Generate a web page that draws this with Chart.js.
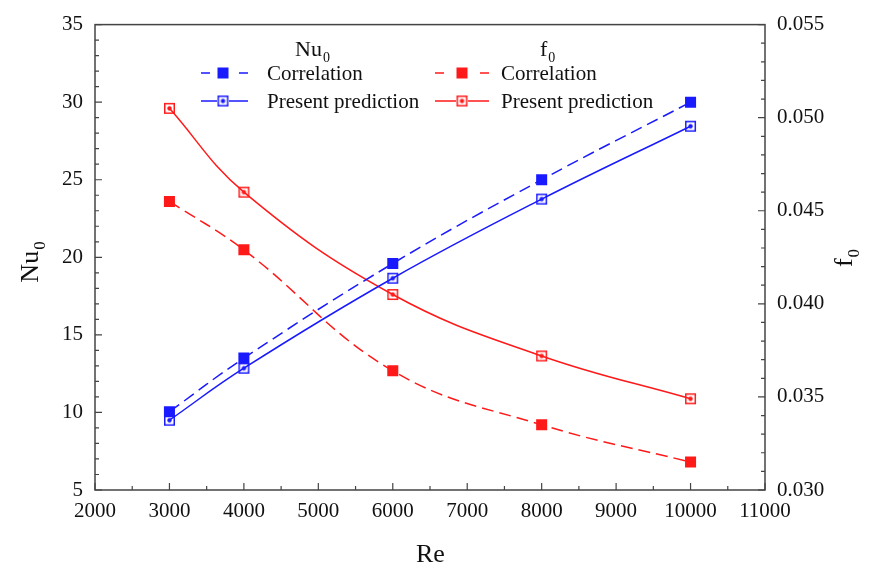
<!DOCTYPE html>
<html>
<head>
<meta charset="utf-8">
<script src="https://cdn.jsdelivr.net/npm/chart.js@4"></script>
<style>
  html, body { margin: 0; padding: 0; background: #fff; }
  #wrap { width: 874px; height: 569px; }
</style>
</head>
<body>
<div id="wrap"><canvas id="grafico"></canvas></div>
<script>
// datos
const reValues = [3000, 4000, 6000, 8000, 10000];
const nuCorrelation = [10.05, 13.5, 19.6, 25.0, 30.0];
const nuPrediction = [9.5, 12.85, 18.65, 23.75, 28.45];
const fCorrelation = [0.0455, 0.0429, 0.0364, 0.0335, 0.0315];
const fPrediction = [0.0505, 0.0460, 0.0405, 0.0372, 0.0349];

const FONT = "'Liberation Serif', 'Times New Roman', serif";
const BLUE = "#1a1aff";
const RED = "#ff1a1a";
const AXIS = "#444";

function pares(ys) {
  return reValues.map((x, i) => ({ x: x, y: ys[i] }));
}

// marcador cuadrado hueco con punto
function hollowMarker(color) {
  const c = document.createElement("canvas");
  c.width = 13; c.height = 13;
  const g = c.getContext("2d");
  g.strokeStyle = color;
  g.lineWidth = 1.5;
  g.strokeRect(1.75, 1.75, 9.5, 9.5);
  g.fillStyle = color;
  g.beginPath();
  g.arc(6.5, 6.5, 2.2, 0, Math.PI * 2);
  g.fill();
  return c;
}
const blueHollow = hollowMarker(BLUE);
const redHollow = hollowMarker(RED);

function serie(label, ys, color, dashed, axis) {
  return {
    label: label,
    data: pares(ys),
    yAxisID: axis,
    borderColor: color,
    backgroundColor: color,
    borderWidth: 1.5,
    borderDash: dashed ? [12, 6] : [],
    tension: 0.4,
    pointStyle: dashed ? "rect" : (color === BLUE ? blueHollow : redHollow),
    pointRadius: 7.8,
    pointBorderWidth: 0
  };
}

function texto(ctx, base, sub, x, y, size, align) {
  ctx.font = size + "px " + FONT;
  const w1 = ctx.measureText(base).width;
  ctx.font = Math.round(size * 0.65) + "px " + FONT;
  const w2 = ctx.measureText(sub).width;
  let x0 = x;
  if (align === "center") x0 = x - (w1 + w2 + 1) / 2;
  ctx.textAlign = "left";
  ctx.textBaseline = "alphabetic";
  ctx.font = size + "px " + FONT;
  ctx.fillText(base, x0, y);
  if (sub) {
    ctx.font = Math.round(size * 0.65) + "px " + FONT;
    ctx.fillText(sub, x0 + w1 + 1, y + size * 0.28);
  }
}

const marcoPlugin = {
  id: "marco",
  afterDraw(chart) {
    const ctx = chart.ctx;
    const a = chart.chartArea;
    const sx = chart.scales.x, sy = chart.scales.y, sf = chart.scales.y1;
    ctx.save();
    ctx.strokeStyle = AXIS;
    ctx.lineWidth = 1.5;
    ctx.strokeRect(a.left, a.top, a.right - a.left, a.bottom - a.top);

    // marcas hacia dentro
    ctx.lineWidth = 1.2;
    ctx.beginPath();
    for (let v = 2000; v <= 11000; v += 500) {
      const px = sx.getPixelForValue(v);
      const len = v % 1000 === 0 ? 7 : 4;
      ctx.moveTo(px, a.bottom); ctx.lineTo(px, a.bottom - len);
    }
    for (let v = 5; v <= 35; v += 1) {
      const py = sy.getPixelForValue(v);
      const len = v % 5 === 0 ? 7 : 4;
      ctx.moveTo(a.left, py); ctx.lineTo(a.left + len, py);
    }
    for (let k = 30; k <= 55; k += 1) {
      const py = sf.getPixelForValue(k / 1000);
      const len = k % 5 === 0 ? 7 : 4;
      ctx.moveTo(a.right, py); ctx.lineTo(a.right - len, py);
    }
    ctx.stroke();

    // títulos de ejes
    ctx.fillStyle = "#111";
    texto(ctx, "Re", "", 416, 562, 26, "left");
    ctx.save();
    ctx.translate(38, 262);
    ctx.rotate(-Math.PI / 2);
    texto(ctx, "Nu", "0", 0, 0, 26, "center");
    ctx.restore();
    ctx.save();
    ctx.translate(852, 258);
    ctx.rotate(-Math.PI / 2);
    texto(ctx, "f", "0", 0, 0, 26, "center");
    ctx.restore();

    // leyenda
    texto(ctx, "Nu", "0", 295, 56, 22, "left");
    texto(ctx, "f", "0", 540, 56, 22, "left");
    const filas = [
      { y: 73, base: 80, label: "Correlation", dashed: true },
      { y: 101, base: 108, label: "Present prediction", dashed: false }
    ];
    const cols = [
      { x1: 201, x2: 248, mx: 223, tx: 267, color: BLUE, hollow: blueHollow },
      { x1: 435, x2: 489, mx: 462, tx: 501, color: RED, hollow: redHollow }
    ];
    cols.forEach(c => {
      filas.forEach(f => {
        ctx.strokeStyle = c.color;
        ctx.lineWidth = 1.5;
        ctx.beginPath();
        if (f.dashed) {
          ctx.moveTo(c.x1, f.y); ctx.lineTo(c.x1 + 9, f.y);
          ctx.moveTo(c.x2 - 9, f.y); ctx.lineTo(c.x2, f.y);
        } else {
          ctx.moveTo(c.x1, f.y); ctx.lineTo(c.x2, f.y);
        }
        ctx.stroke();
        if (f.dashed) {
          ctx.fillStyle = c.color;
          ctx.fillRect(c.mx - 5.5, f.y - 5.5, 11, 11);
        } else {
          ctx.fillStyle = "#fff";
          ctx.fillRect(c.mx - 6, f.y - 6, 12, 12);
          ctx.drawImage(c.hollow, c.mx - 6.5, f.y - 6.5);
        }
        ctx.fillStyle = "#111";
        ctx.font = "21px " + FONT;
        ctx.textAlign = "left";
        ctx.fillText(f.label, c.tx, f.base);
      });
    });
    ctx.restore();
  }
};

const tickFont = { family: FONT, size: 21 };

new Chart(document.getElementById("grafico").getContext("2d"), {
  type: "line",
  data: {
    datasets: [
      serie("Nu0 Correlation", nuCorrelation, BLUE, true, "y"),
      serie("Nu0 Present prediction", nuPrediction, BLUE, false, "y"),
      serie("f0 Correlation", fCorrelation, RED, true, "y1"),
      serie("f0 Present prediction", fPrediction, RED, false, "y1")
    ]
  },
  options: {
    responsive: true,
    maintainAspectRatio: false,
    animation: false,
    layout: { padding: { top: 21, left: 0, right: 0, bottom: 0 } },
    plugins: {
      legend: { display: false },
      tooltip: { enabled: false }
    },
    scales: {
      x: {
        type: "linear",
        min: 2000,
        max: 11000,
        grid: { display: false, drawTicks: false },
        border: { display: false },
        ticks: {
          stepSize: 1000,
          font: tickFont,
          color: "#111",
          padding: 9,
          maxRotation: 0,
          callback: v => String(v)
        },
        afterFit(s) { s.height = 79; }
      },
      y: {
        position: "left",
        min: 5,
        max: 35,
        grid: { display: false, drawTicks: false },
        border: { display: false },
        ticks: { stepSize: 5, font: tickFont, color: "#111", padding: 12 },
        afterFit(s) { s.width = 95; }
      },
      y1: {
        position: "right",
        min: 0.030,
        max: 0.055,
        grid: { display: false, drawTicks: false },
        border: { display: false },
        ticks: {
          stepSize: 0.005,
          font: tickFont,
          color: "#111",
          padding: 12,
          callback: v => v.toFixed(3)
        },
        afterFit(s) { s.width = 109; }
      }
    }
  },
  plugins: [marcoPlugin]
});
</script>
</body>
</html>
